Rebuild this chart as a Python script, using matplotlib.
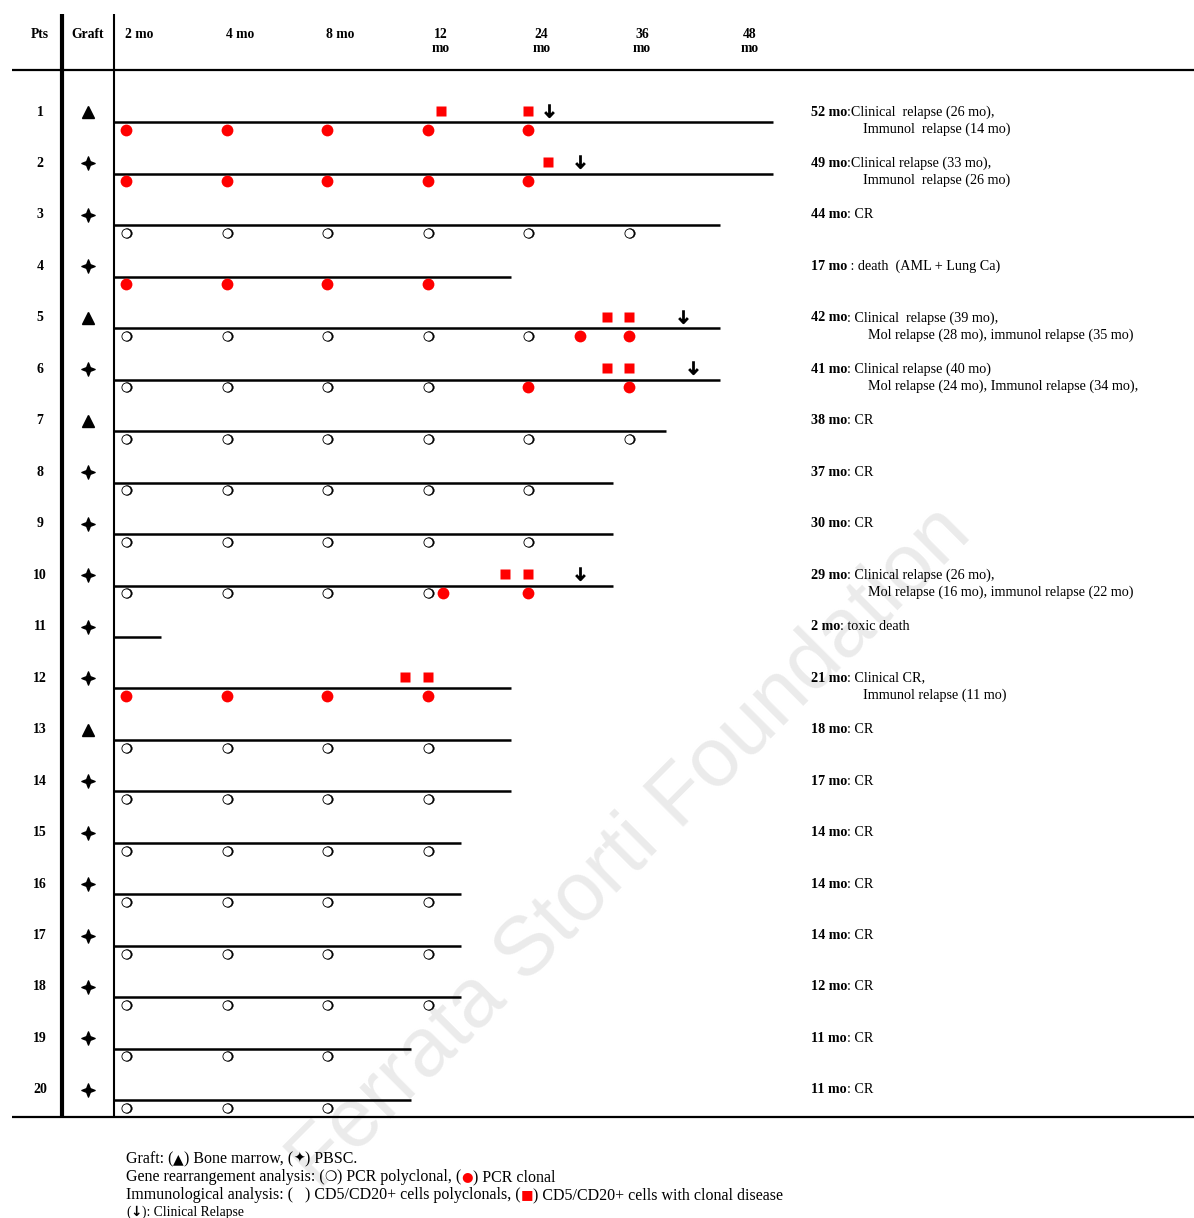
import matplotlib
matplotlib.use('Agg')
import matplotlib.pyplot as plt
from matplotlib.path import Path
from matplotlib.transforms import offset_copy

W, H, DPI = 1194, 1218, 100

# ---------------- data ----------------
patients = list(range(1, 21))
graft = ['BM', 'PBSC', 'PBSC', 'PBSC', 'BM', 'PBSC', 'BM', 'PBSC', 'PBSC', 'PBSC',
         'PBSC', 'PBSC', 'BM', 'PBSC', 'PBSC', 'PBSC', 'PBSC', 'PBSC', 'PBSC', 'PBSC']
# timeline in column units: 0=2 mo, 1=4 mo, 2=8 mo, 3=12 mo, 4=24 mo, 5=36 mo, 6=48 mo
time_labels = ['2 mo', '4 mo', '8 mo', '12\nmo', '24\nmo', '36\nmo', '48\nmo']
followup_end = [6.43, 6.43, 5.90, 3.83, 5.90, 5.90, 5.37, 4.84, 4.84, 4.84,
                0.35, 3.83, 3.83, 3.83, 3.33, 3.33, 3.33, 3.33, 2.83, 2.83]
pcr_polyclonal = {3: [0, 1, 2, 3, 4, 5], 5: [0, 1, 2, 3, 4], 6: [0, 1, 2, 3],
                  7: [0, 1, 2, 3, 4, 5], 8: [0, 1, 2, 3, 4], 9: [0, 1, 2, 3, 4],
                  10: [0, 1, 2, 3], 13: [0, 1, 2, 3], 14: [0, 1, 2, 3],
                  15: [0, 1, 2, 3], 16: [0, 1, 2, 3], 17: [0, 1, 2, 3],
                  18: [0, 1, 2, 3], 19: [0, 1, 2], 20: [0, 1, 2]}
pcr_clonal = {1: [0, 1, 2, 3, 4], 2: [0, 1, 2, 3, 4], 4: [0, 1, 2, 3],
              5: [4.51, 5], 6: [4, 5], 10: [3.15, 4], 12: [0, 1, 2, 3]}
immuno_clonal = {1: [3.13, 4], 2: [4.19], 5: [4.78, 5], 6: [4.78, 5],
                 10: [3.77, 4], 12: [2.77, 3]}
clinical_relapse = {1: 4.2, 2: 4.51, 5: 5.54, 6: 5.64, 10: 4.51}
outcome_time = ['52 mo', '49 mo', '44 mo', '17 mo', '42 mo', '41 mo', '38 mo', '37 mo',
                '30 mo', '29 mo', '2 mo', '21 mo', '18 mo', '17 mo', '14 mo', '14 mo',
                '14 mo', '12 mo', '11 mo', '11 mo']
outcome_text = [':Clinical  relapse (26 mo),', ':Clinical relapse (33 mo),', ': CR',
                ' : death  (AML + Lung Ca)', ': Clinical  relapse (39 mo),',
                ': Clinical relapse (40 mo)', ': CR', ': CR', ': CR',
                ': Clinical relapse (26 mo),', ': toxic death', ': Clinical CR,',
                ': CR', ': CR', ': CR', ': CR', ': CR', ': CR', ': CR', ': CR']
outcome_text2 = {1: 'Immunol  relapse (14 mo)', 2: 'Immunol  relapse (26 mo)',
                 5: 'Mol relapse (28 mo), immunol relapse (35 mo)',
                 6: 'Mol relapse (24 mo), Immunol relapse (34 mo),',
                 10: 'Mol relapse (16 mo), immunol relapse (22 mo)',
                 12: 'Immunol relapse (11 mo)'}

# ---------------- layout helpers ----------------
X0, DX = 126.0, 100.6      # pixel of column 0, pixels per column
Y0, DY = 112.0, 51.47      # pixel of row 1, pixels per row


def px2x(p):
    return (p - X0) / DX


def px2y(p):
    return 1 + (p - Y0) / DY


SERIF = ['Liberation Serif', 'DejaVu Sans']

fig = plt.figure(figsize=(W / DPI, H / DPI), dpi=DPI)
ax = fig.add_axes([0, 0, 1, 1])
ax.set_xlim(px2x(0), px2x(W))
ax.set_ylim(px2y(H), px2y(0))
ax.axis('off')

# watermark
ax.text(630 / W, 1 - 848 / H, 'Ferrata Storti Foundation', transform=fig.transFigure,
        rotation=45, ha='center', va='center', fontsize=60, color='#ebebeb',
        family='Liberation Sans', zorder=0.5)

# frame lines
ax.plot([px2x(12), px2x(W)], [px2y(70)] * 2, color='black', lw=1.6, solid_capstyle='butt')
ax.plot([px2x(12), px2x(W)], [px2y(1117)] * 2, color='black', lw=1.6, solid_capstyle='butt')
ax.plot([px2x(62)] * 2, [px2y(14), px2y(1117)], color='black', lw=3.0, solid_capstyle='butt')
ax.plot([px2x(114)] * 2, [px2y(14), px2y(1117)], color='black', lw=1.5, solid_capstyle='butt')

# header
hy1, hy2 = px2y(34), px2y(49)
hdr = dict(ha='center', va='center', fontsize=9.8, fontweight='bold', family=SERIF)
ax.text(px2x(40), hy1, 'Pts', **hdr)
ax.text(px2x(88), hy1, 'Graft', **hdr)
for i, lab in enumerate(time_labels):
    parts = lab.split('\n')
    xh = i + 0.13 + (0.07 if i == 6 else 0)
    ax.text(xh, hy1, parts[0], **hdr)
    if len(parts) > 1:
        ax.text(xh, hy2, parts[1], **hdr)

# markers
star = Path([(0, 1), (0.28, 0.28), (1, 0), (0.28, -0.28), (0, -1), (-0.28, -0.28),
             (-1, 0), (-0.28, 0.28), (0, 1)],
            [Path.MOVETO] + [Path.LINETO] * 7 + [Path.CLOSEPOLY])
arrow = Path([(0, 1), (0, -1), (-0.7, -0.25), (0, -1), (0.7, -0.25)],
             [Path.MOVETO, Path.LINETO, Path.MOVETO, Path.LINETO, Path.LINETO])
shadow = offset_copy(ax.transData, fig=fig, x=1.0, y=0, units='dots')

LINE_START = px2x(113)
for k, p in enumerate(patients):
    y = p
    ax.text(px2x(40), y, str(p), ha='center', va='center', fontsize=10, fontweight='bold', family=SERIF)
    if graft[k] == 'BM':
        ax.plot([px2x(88)], [y], marker='^', ms=8, color='black', ls='none')
    else:
        ax.plot([px2x(88)], [y], marker=star, ms=9.5, color='black', ls='none')
    ax.plot([LINE_START, followup_end[k]], [y + 0.2, y + 0.2], color='black', lw=1.8,
            solid_capstyle='butt', zorder=2)
    if p in pcr_polyclonal:
        xs = pcr_polyclonal[p]
        ys = [y + 0.35] * len(xs)
        ax.plot(xs, ys, ls='none', marker='o', ms=6.9, mfc='black', mec='black',
                mew=0.3, zorder=3, transform=shadow)
        ax.plot(xs, ys, ls='none', marker='o', ms=6.6, mfc='white', mec='black',
                mew=0.6, zorder=3.1)
    if p in pcr_clonal:
        xs = pcr_clonal[p]
        ax.plot(xs, [y + 0.35] * len(xs), ls='none', marker='o', ms=8.5,
                color='#ff0000', mec='none', zorder=3)
    if p in immuno_clonal:
        xs = immuno_clonal[p]
        ax.plot(xs, [y - 0.02] * len(xs), ls='none', marker='s', ms=7.3,
                color='#ff0000', mec='none', zorder=3)
    if p in clinical_relapse:
        ax.plot([clinical_relapse[p]], [y - 0.04], ls='none', marker=arrow, ms=9,
                mfc='none', mec='black', mew=2.0, zorder=3)

# mixed-style text chaining
fig.canvas.draw()
renderer = fig.canvas.get_renderer()


def chain(x_px, y_px, segs, va='center'):
    x = x_px
    for s, kw in segs:
        t = fig.text(x / W, 1 - y_px / H, s, ha='left', va=va, **kw)
        x += t.get_window_extent(renderer=renderer).width
    return x


reg = dict(fontsize=10.2, family=SERIF, color='black')
bold = dict(fontsize=10.2, family=SERIF, color='black', fontweight='bold')
for k, p in enumerate(patients):
    ypx = Y0 + (p - 1) * DY
    chain(811, ypx, [(outcome_time[k], bold), (outcome_text[k], reg)])
    if p in outcome_text2:
        x2 = 868 if outcome_text2[p].startswith('Mol') else 863
        fig.text(x2 / W, 1 - (ypx + 17) / H, outcome_text2[p], ha='left', va='center', **reg)

# legend
LFS = 11.5
lg = dict(fontsize=LFS, family=SERIF, color='black')
lgs = dict(fontsize=LFS - 1.5, family='DejaVu Sans', color='black')
lr = dict(fontsize=LFS - 2, family='DejaVu Sans', color='#ff0000')
chain(126, 1159, [('Graft: (', lg), ('\u25b2', lgs), (') Bone marrow, (', lg),
                  ('\u2726', lgs), (') PBSC.', lg)])
chain(126, 1177, [('Gene rearrangement analysis: (', lg), ('\u274d', lgs),
                  (') PCR polyclonal, (', lg), ('\u25cf', lr), (') PCR clonal', lg)])
chain(126, 1195, [('Immunological analysis: (   ) CD5/CD20+ cells polyclonals, (', lg),
                  ('\u25a0', lr), (') CD5/CD20+ cells with clonal disease', lg)])
chain(126, 1212, [('(', dict(fontsize=9.8, family=SERIF)),
                  ('\u2193', dict(fontsize=9.8, family='DejaVu Sans', fontweight='bold')),
                  ('): Clinical Relapse', dict(fontsize=9.8, family=SERIF))])

fig.savefig('out.png', dpi=DPI)
